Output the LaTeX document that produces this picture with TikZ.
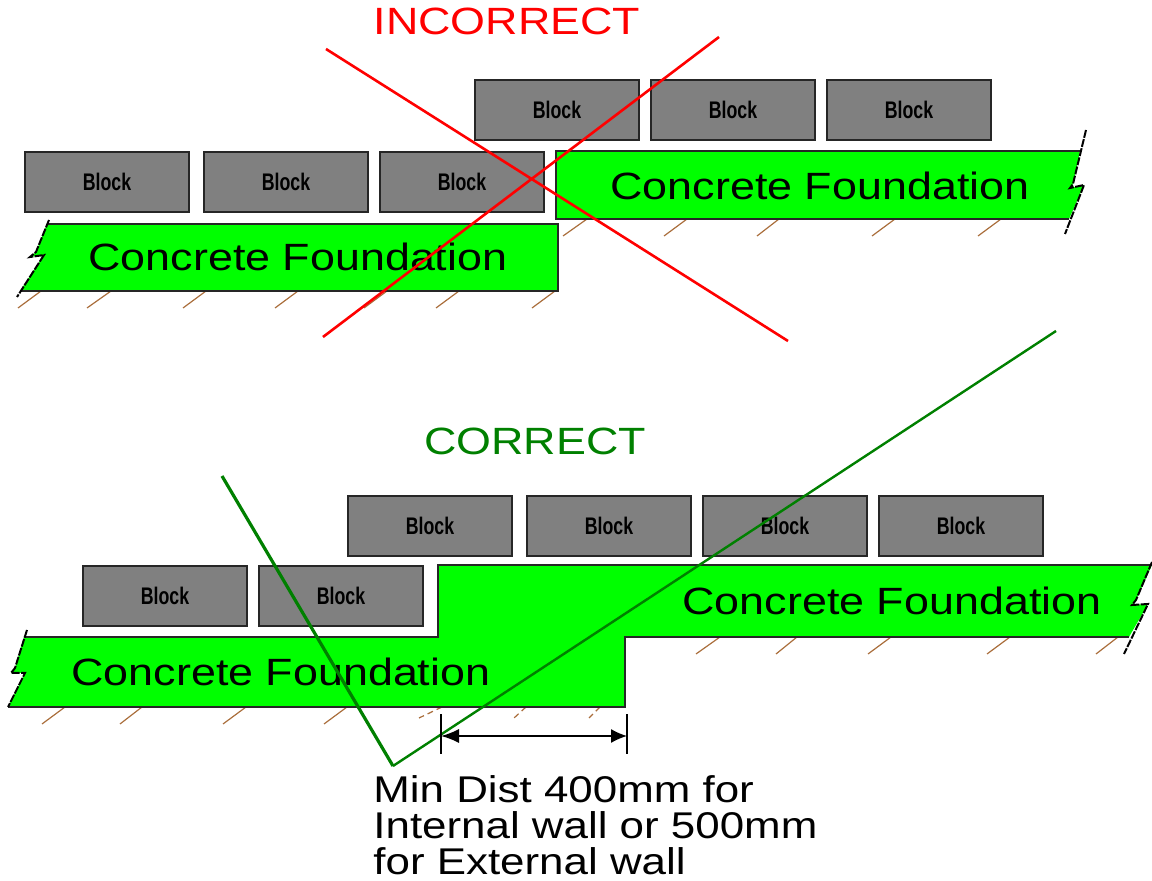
\documentclass[tikz,border=0pt]{standalone}
\usepackage{fontspec}
\setmainfont{Liberation Sans}
\newfontfamily\widefont[FakeStretch=1.18]{Liberation Sans}
\newfontfamily\blockfont[FakeStretch=0.74]{Liberation Sans Bold}
\usetikzlibrary{arrows.meta}
\definecolor{concrete}{RGB}{0,255,0}
\definecolor{blockgray}{RGB}{128,128,128}
\definecolor{soil}{RGB}{170,110,60}
\definecolor{okgreen}{RGB}{0,128,0}
\tikzset{
  blockbox/.style={draw=black!85, line width=1pt, fill=blockgray, minimum width=82pt,
    minimum height=30pt, inner sep=0pt, font=\blockfont\fontsize{12}{12}\selectfont},
  slab/.style={draw=black!85, line width=1pt, line join=miter},
  slablabel/.style={inner sep=0pt, font=\widefont\fontsize{19}{19}\selectfont},
  breakline/.style={draw=black, line width=1pt, dash pattern=on 4pt off .7pt},
  soilmark/.style={draw=soil, line width=.6pt},
  wrongline/.style={draw=red, line width=1.3pt},
  rightline/.style={draw=okgreen, line width=1.2pt},
}
\begin{document}
\begin{tikzpicture}[x=.5pt, y=-.5pt]
  \useasboundingbox (0, 0) rectangle (1152, 881);
  % upper detail
  \foreach \x/\y in {41/18, 111/87, 206/183, 298/275, 387/364, 459/436, 555/532}
    \draw[soilmark] (\x, 291) -- (\y, 308);
  \foreach \x/\y in {587/563, 687/664, 779/757, 895/872, 1001/978}
    \draw[soilmark] (\x, 219) -- (\y, 236);
  \fill[concrete] (47, 224) -- (558, 224) -- (558, 291) -- (20, 291) -- (44, 255) -- (30, 257) -- (36, 252) -- cycle;
  \draw[slab] (47, 224) -- (558, 224) -- (558, 291) -- (20, 291);
  \draw[breakline] (49, 220) -- (36, 252) -- (30, 257) -- (44, 255) -- (17, 297);
  \fill[concrete] (556, 151) -- (1080, 151) -- (1073, 184) -- (1070, 188) -- (1084, 185) -- (1069, 219) -- (556, 219) -- cycle;
  \draw[slab] (1080, 151) -- (556, 151) -- (556, 219) -- (1069, 219);
  \draw[breakline] (1086, 130) -- (1073, 184) -- (1070, 188) -- (1084, 185) -- (1065, 234);
  \foreach \x/\n in {107/a, 286/b, 462/c}
    \node[blockbox] (low\n) at (\x, 182) {Block};
  \foreach \x/\n in {557/a, 733/b, 909/c}
    \node[blockbox] (up\n) at (\x, 110) {Block};
  \node[slablabel] (slabone) at (298, 257) {Concrete Foundation};
  \node[slablabel] (slabtwo) at (820, 186) {Concrete Foundation};
  \node[font=\widefont\fontsize{19}{19}\selectfont, text=red, inner sep=0pt] (wrong) at (507, 21) {INCORRECT};
  \coordinate (wa) at (326, 49);
  \coordinate (wb) at (788, 341);
  \coordinate (wc) at (323, 337);
  \coordinate (wd) at (719, 37);
  \draw[wrongline] (wa) -- (wb);
  \draw[wrongline] (wc) -- (wd);
  % lower detail
  \foreach \x/\y in {65/42, 142/120, 246/223, 347/324}
    \draw[soilmark] (\x, 707) -- (\y, 724);
  \foreach \x/\y in {442/419, 526/514, 600/589}
    \draw[soilmark, densely dashed] (\x, 707) -- (\y, 718);
  \foreach \x/\y in {720/696, 797/776, 891/868, 1010/987, 1118/1096}
    \draw[soilmark] (\x, 637) -- (\y, 654);
  \fill[concrete] (24, 637) -- (438, 637) -- (438, 565) -- (1152, 565) -- (1136, 600)
    -- (1132, 605) -- (1148, 604) -- (1129, 637) -- (625, 637) -- (625, 707) -- (8, 707)
    -- (25, 673) -- (11, 673) -- (15, 668) -- cycle;
  \draw[slab] (24, 637) -- (438, 637) -- (438, 565) -- (1152, 565);
  \draw[slab] (1129, 637) -- (625, 637) -- (625, 707) -- (8, 707);
  \draw[breakline] (27, 630) -- (15, 668) -- (11, 673) -- (25, 673) -- (8, 707);
  \draw[breakline] (1152, 562) -- (1136, 600) -- (1132, 605) -- (1148, 604) -- (1124, 654);
  \foreach \x/\n in {165/a, 341/b}
    \node[blockbox] (stepl\n) at (\x, 596) {Block};
  \foreach \x/\n in {430/a, 609/b, 785/c, 961/d}
    \node[blockbox] (steph\n) at (\x, 526) {Block};
  \node[slablabel] (slabthree) at (281, 672) {Concrete Foundation};
  \node[slablabel] (slabfour) at (892, 601) {Concrete Foundation};
  \node[font=\widefont\fontsize{19}{19}\selectfont, text=okgreen, inner sep=0pt] (right) at (535, 441) {CORRECT};
  \coordinate (ra) at (222, 476);
  \coordinate (rb) at (393, 766);
  \coordinate (rc) at (1056, 331);
  \draw[rightline, line width=1.6pt] (ra) -- (rb);
  \draw[rightline] (rb) -- (rc);
  % minimum distance
  \coordinate (dl) at (441, 736);
  \coordinate (dr) at (627, 736);
  \draw[line width=.8pt] ([yshift=-9pt]dl) -- ([yshift=11pt]dl);
  \draw[line width=.8pt] ([yshift=-9pt]dr) -- ([yshift=11pt]dr);
  \draw[{Latex[length=9pt,width=7pt]}-{Latex[length=8pt,width=7pt]}, line width=.7pt] (dl) -- (dr);
  \node[anchor=north west, inner sep=0pt, align=left, font=\widefont\fontsize{18.6}{18}\selectfont]
    (mindist) at (373, 775) {Min Dist 400mm for\\Internal wall or 500mm\\for External wall};
\end{tikzpicture}
\end{document}
